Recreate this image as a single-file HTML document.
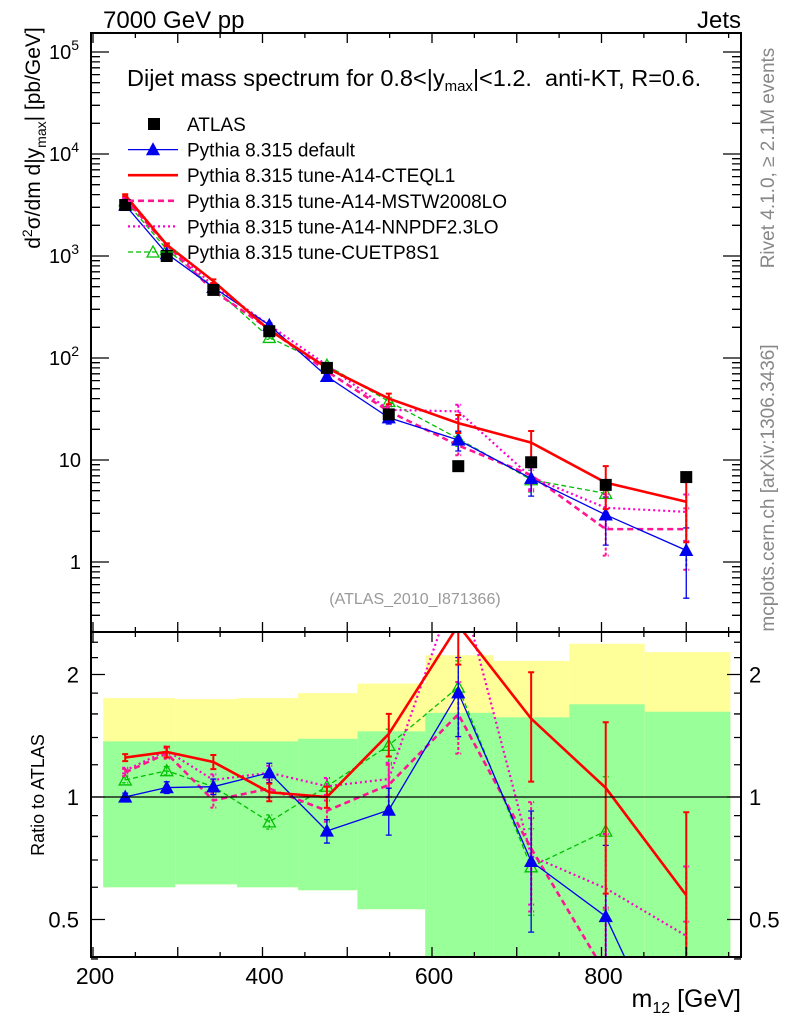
<!DOCTYPE html>
<html><head><meta charset="utf-8"><style>
html,body{margin:0;padding:0;background:#fff;overflow:hidden;width:786px;height:1024px;}
svg{display:block;font-family:"Liberation Sans",sans-serif;}
</style></head><body>
<svg id="c" width="786" height="1024" viewBox="0 0 786 1024">
<defs>
<clipPath id="cm"><rect x="91" y="33" width="650" height="599"/></clipPath>
<clipPath id="cr"><rect x="91" y="632" width="650" height="325"/></clipPath>
</defs>
<g id="bands" clip-path="url(#cr)"></g>
<g id="marks"></g>
<g id="axes"></g>
<text x="103" y="28" font-size="24">7000 GeV pp</text>
<text x="741" y="28" font-size="24" text-anchor="end">Jets</text>
<text x="127" y="86" font-size="23.5">Dijet mass spectrum for 0.8&lt;|y<tspan font-size="15" dy="5">max</tspan><tspan dy="-5">|&lt;1.2. &#160;anti-KT, R=0.6.</tspan></text>
<text x="415" y="604" font-size="16" fill="#999" text-anchor="middle">(ATLAS_2010_I871366)</text>
<text transform="translate(774,158) rotate(-90)" font-size="19" fill="#888" text-anchor="middle">Rivet 4.1.0, ≥ 2.1M events</text>
<text transform="translate(774,488) rotate(-90)" font-size="19" fill="#888" text-anchor="middle">mcplots.cern.ch [arXiv:1306.3436]</text>
<text transform="translate(40,138) rotate(-90)" font-size="21" text-anchor="middle">d<tspan font-size="14" dy="-8">2</tspan><tspan dy="8">σ/dm d|y</tspan><tspan font-size="14" dy="6">max</tspan><tspan dy="-6">| [pb/GeV]</tspan></text>
<text transform="translate(44,795) rotate(-90)" font-size="18" text-anchor="middle">Ratio to ATLAS</text>
<text x="741" y="1007" font-size="25" text-anchor="end">m<tspan font-size="16" dy="6">12</tspan><tspan dy="-6"> [GeV]</tspan></text>
<g id="legend"></g>
</svg>
<script>
const xs = [238,287,342,408,476,549,631,717,805,900];
const atlas = [3160,1000,465,183,80,28,8.7,9.5,5.7,6.8];
const pyDefault = [3160,1055,493,210,66,26,15.7,6.6,2.9,1.3];
const pyCTEQ = [3950,1290,567,188,80,40,23,14.8,6.0,3.9];
const pyMSTW = [3630,1280,456,192,74,30,13.9,7.1,2.1,2.1];
const pyNNPDF = [3670,1300,512,210,85,31,30,6.8,3.4,3.1];
const pyCUETP = [3480,1160,493,159,85,37.5,16.2,6.4,4.7,null];
const relErr = [0.02,0.03,0.04,0.05,0.06,0.12,0.2,0.3,0.45,0.6];
const binEdges = [212,297,370,442,512,592,673,762,851,952];
const yellowHi = [1.75,1.74,1.75,1.8,1.9,2.23,2.16,2.38,2.27];
const yellowLo = [0.6,0.61,0.6,0.59,0.53,0.2,0.41,0.2,0.2];
const greenHi = [1.37,1.37,1.37,1.39,1.45,1.61,1.57,1.69,1.62];
const greenLo = [0.6,0.61,0.6,0.59,0.53,0.2,0.2,0.2,0.2];
const xTicks = [200,400,600,800];
const ratioTicks = [0.5,1,2];

const NS="http://www.w3.org/2000/svg";
const X=g=>93+(g-200)*0.8475;
const Y=v=>562-102*Math.log10(v);
const R=r=>797-122.5*Math.log2(r);
function mk(tag,attrs,parent){const e=document.createElementNS(NS,tag);for(const k in attrs)e.setAttribute(k,attrs[k]);parent.appendChild(e);return e;}
const bands=document.getElementById('bands'),marks=document.getElementById('marks'),axes=document.getElementById('axes'),legend=document.getElementById('legend');

for(let i=0;i<binEdges.length-1;i++){
  const x0=X(binEdges[i]),x1=X(binEdges[i+1]);
  const yb=mk('rect',{x:x0,y:R(yellowHi[i]),width:x1-x0,height:R(yellowLo[i])-R(yellowHi[i]),fill:'#ffff99'},bands);
  
  
  const gb=mk('rect',{x:x0,y:R(greenHi[i]),width:x1-x0,height:R(greenLo[i])-R(greenHi[i]),fill:'#99ff99'},bands);
  
  
}

const series=[
 {name:'pythia-cuetp8s1',vals:pyCUETP,col:'#00c000',w:1.3,dash:'5,3',mark:'open',ef:0.8},
 {name:'pythia-nnpdf',vals:pyNNPDF,col:'#ff00cc',w:2.2,dash:'2,3',mark:null,ef:0.8},
 {name:'pythia-mstw',vals:pyMSTW,col:'#ff1493',w:2.6,dash:'6,4',mark:null,ef:1},
 {name:'pythia-default',vals:pyDefault,col:'#0000ee',w:1.3,dash:null,mark:'fill',ef:1.1},
 {name:'pythia-cteql1',vals:pyCTEQ,col:'#ff0000',w:2.6,dash:null,mark:null,ef:1}
];
function tri(cx,cy,fill,col,parent){
  const t=mk('polygon',{points:`${cx},${cy-6} ${cx-6},${cy+5} ${cx+6},${cy+5}`,fill:fill,stroke:col,'stroke-width':1.3},parent);
  return t;
}
function drawPanel(clip,yf,ratio){
  const g=mk('g',{'clip-path':`url(#${clip})`},marks);
  
  
  series.forEach(s=>{
    const pts=[];
    s.vals.forEach((v,i)=>{if(v==null)return;const val=ratio?v/atlas[i]:v;pts.push([X(xs[i]),yf(val),val,i]);});
    const pl=mk('polyline',{points:pts.map(p=>p[0]+','+p[1]).join(' '),fill:'none',stroke:s.col,'stroke-width':s.w},g);
    if(s.dash)pl.setAttribute('stroke-dasharray',s.dash);
    
    
    pts.forEach(p=>{
      const e=Math.min(relErr[p[3]]*s.ef,0.85);
      const y1=yf(p[2]*(1+e)),y2=yf(p[2]*(1-e));
      const eb=mk('path',{d:`M${p[0]},${y1}V${y2}M${p[0]-3},${y1}h6M${p[0]-3},${y2}h6`,stroke:s.col,'stroke-width':s.w>2?2:1.3,fill:'none'},g);
      if(s.dash)eb.setAttribute('stroke-dasharray','3,2');
      
      
      if(s.mark){const t=tri(p[0],p[1],s.mark==='fill'?s.col:'none',s.col,g);
        
        }
    });
  });
  if(!ratio){
    atlas.forEach((v,i)=>{const r=mk('rect',{x:X(xs[i])-6,y:Y(v)-6,width:12,height:12,fill:'#000'},g);
      
      });
  }
}
drawPanel('cm',Y,false);
drawPanel('cr',R,true);
const one=mk('line',{x1:91,x2:741,y1:R(1),y2:R(1),stroke:'#000','stroke-width':1.3},marks);



const fm=mk('rect',{x:91,y:33,width:650,height:599,fill:'none',stroke:'#000','stroke-width':2},axes);


const fr=mk('rect',{x:91,y:632,width:650,height:325,fill:'none',stroke:'#000','stroke-width':2},axes);


let tp='';
for(let g=200;g<=960;g+=50){const x=X(g),big=g%100===0?10:5;
  tp+=`M${x},632v-${big}M${x},33v${big}M${x},632v${big}M${x},957v-${big}`;}
for(let d=-1;d<=5;d++)for(let m=1;m<10;m++){const y=Y(m*Math.pow(10,d));if(y<33||y>632)continue;const l=m===1?18:9;
  tp+=`M91,${y}h${l}M741,${y}h-${l}`;}
[0.4,0.5,0.6,0.7,0.8,0.9,1,1.2,1.4,1.6,1.8,2,2.2,2.4].forEach(r=>{const y=R(r);const l=(r===0.5||r===1||r===2)?14:7;tp+=`M91,${y}h${l}M741,${y}h-${l}`;});
const tk=mk('path',{d:tp,stroke:'#000','stroke-width':1.3,fill:'none'},axes);


xTicks.forEach(g=>{const t=mk('text',{x:X(g)+2,y:984,'font-size':23,'text-anchor':'middle'},axes);t.textContent=g;
  
  });
[[5,'10','5'],[4,'10','4'],[3,'10','3'],[2,'10','2'],[1,'10',''],[0,'1','']].forEach(a=>{
  const t=mk('text',{x:a[2]?79:81,y:Y(Math.pow(10,a[0]))+7,'font-size':20,'text-anchor':'end'},axes);
  t.textContent=a[1];
  if(a[2]){const s=mk('tspan',{'font-size':14,dy:-9},t);s.textContent=a[2];}
  
  });
ratioTicks.forEach(r=>{
  const t=mk('text',{x:79,y:R(r)+8,'font-size':22,'text-anchor':'end'},axes);t.textContent=r;
  
  
  const t2=mk('text',{x:749,y:R(r)+8,'font-size':22},axes);t2.textContent=r;
  
  });

const leg=[['ATLAS',null],['Pythia 8.315 default',series[3]],['Pythia 8.315 tune-A14-CTEQL1',series[4]],['Pythia 8.315 tune-A14-MSTW2008LO',series[2]],['Pythia 8.315 tune-A14-NNPDF2.3LO',series[1]],['Pythia 8.315 tune-CUETP8S1',series[0]]];
leg.forEach((l,i)=>{const y=124+i*25.6;
  const g=mk('g',{},legend);
  
  
  if(!l[1])mk('rect',{x:148,y:y-6,width:12,height:12,fill:'#000'},g);
  else{const s=l[1];const ln=mk('line',{x1:128,x2:178,y1:y,y2:y,stroke:s.col,'stroke-width':s.w},g);
    if(s.dash)ln.setAttribute('stroke-dasharray',s.dash);
    if(s.mark)tri(153,y,s.mark==='fill'?s.col:'none',s.col,g);}
  const t=mk('text',{x:187,y:y+7,'font-size':19},g);t.textContent=l[0];});
</script>
</body></html>
